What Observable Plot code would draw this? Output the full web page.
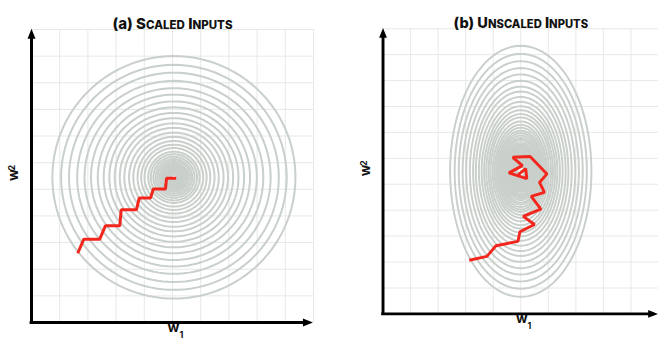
<!DOCTYPE html>
<html>
<head>
<meta charset="utf-8">
<script src="https://cdn.jsdelivr.net/npm/d3@7"></script>
<script src="https://cdn.jsdelivr.net/npm/@observablehq/plot@0.6"></script>
<style>
  html, body { margin: 0; padding: 0; background: #fff; width: 658px; height: 342px; overflow: hidden; }
  .panel { position: absolute; top: 0; }
  #scaled { left: 0; }
  #unscaled { left: 329px; }
</style>
</head>
<body>
<div id="scaled" class="panel"></div>
<div id="unscaled" class="panel"></div>
<script>
// Panel titles
const titles = ["(a) Scaled Inputs", "(b) Unscaled Inputs"];

// Loss contours: semi-axis of each level along w1, and the w2/w1 stretch of the bowl
const scaledRadii = [4.31, 4.00, 3.72, 3.43, 3.17, 2.94, 2.70, 2.49, 2.29, 2.10, 1.92, 1.76, 1.59, 1.44,
  1.29, 1.16, 1.04, 0.91, 0.82, 0.73, 0.65, 0.58, 0.51, 0.46, 0.41, 0.37, 0.33, 0.29, 0.26, 0.23,
  0.21, 0.18, 0.16, 0.145, 0.13, 0.11, 0.10];
const scaledStretch = 1.056;
const scaledCenter = [5.05, 5.45];

const unscaledRadii = [2.565, 2.40, 2.25, 2.11, 1.98, 1.85, 1.73, 1.63, 1.52, 1.42, 1.33, 1.25, 1.17,
  1.10, 1.02, 0.95, 0.89, 0.83, 0.78, 0.73, 0.68, 0.64, 0.59, 0.55, 0.52, 0.49, 0.46, 0.42, 0.40,
  0.37, 0.35, 0.33, 0.30, 0.28, 0.265, 0.25, 0.23, 0.22, 0.205, 0.19, 0.18, 0.165, 0.155, 0.145,
  0.135, 0.125];
const unscaledStretch = 1.887;
const unscaledCenter = [5.0, 5.5];

// Gradient-descent trajectories (w1, w2)
const scaledPathW1 = [1.64, 1.855, 2.42, 2.62, 3.13, 3.18, 3.72, 3.82, 4.22, 4.32, 4.75, 4.79, 5.13];
const scaledPathW2 = [2.60, 3.13, 3.13, 3.63, 3.63, 4.23, 4.23, 4.67, 4.67, 5.01, 5.01, 5.42, 5.42];

const unscaledPathW1 = [3.13, 3.77, 4.10, 4.90, 4.97, 5.50, 5.09, 5.73, 5.38, 5.86, 5.68, 5.95, 5.34,
  4.71, 5.06, 4.57, 5.22, 5.18, 4.91];
const unscaledPathW2 = [2.07, 2.22, 2.63, 2.80, 3.17, 3.45, 3.76, 4.04, 4.53, 4.69, 5.07, 5.40, 6.07,
  6.04, 5.72, 5.44, 5.22, 5.60, 5.37];

const FONT = "Inter, 'DejaVu Sans', sans-serif";
const RED = "#f2261c";
const CONTOUR = "#c9cfca";
const GRID = "#e6e8e6";

// Filled arrowhead for the axis vectors (drawn pointing up, tip at the anchor)
const arrowHead = {
  draw(context, l) {
    context.moveTo(-4, 0);
    context.lineTo(0, -l);
    context.lineTo(4, 0);
    context.closePath();
  }
};

function contourRings(radii, center, stretch) {
  const angles = d3.range(0, 360, 3).map(d => d * Math.PI / 180);
  return radii.flatMap((r, i) => angles.map(a => ({
    level: i,
    w1: center[0] + r * Math.cos(a),
    w2: center[1] + r * stretch * Math.sin(a)
  })));
}

// Title set in small capitals after the "(a) " tag: capitals full size, the rest smaller
function smallCaps(svg, title) {
  const node = Array.from(svg.querySelectorAll("text")).find(t => t.textContent === title);
  if (!node) return;
  const [, tag, rest] = title.match(/^(\(\w\)\s*)(.*)$/);
  node.textContent = "";
  const add = (text, size) => {
    const tspan = document.createElementNS("http://www.w3.org/2000/svg", "tspan");
    tspan.textContent = text;
    tspan.setAttribute("font-size", size);
    node.append(tspan);
  };
  add(tag, 15);
  for (const part of rest.match(/[a-z]+|[^a-z]+/g)) {
    if (/[a-z]/.test(part[0])) add(part.toUpperCase(), 11.5);
    else add(part, 15);
  }
}

function panel({title, radii, center, stretch, pathW1, pathW2, width, marginLeft, marginRight}) {
  const rings = contourRings(radii, center, stretch);
  const path = pathW1.map((w1, i) => ({w1, w2: pathW2[i]}));
  const label = {fontFamily: FONT, fontWeight: 700, fill: "#111"};
  const svg = Plot.plot({
    width,
    height: 342,
    marginLeft,
    marginRight,
    marginTop: 29,
    marginBottom: 20,
    x: {domain: [0, 10], axis: null},
    y: {domain: [0, 11], axis: null},
    marks: [
      Plot.gridX(d3.range(1, 11), {stroke: GRID, strokeOpacity: 1, strokeWidth: 1}),
      Plot.gridY(d3.range(1, 12), {stroke: GRID, strokeOpacity: 1, strokeWidth: 1}),
      Plot.line(rings, {x: "w1", y: "w2", z: "level", curve: "linear-closed",
        stroke: CONTOUR, strokeWidth: 2}),
      Plot.line(path, {x: "w1", y: "w2", stroke: RED, strokeWidth: 3,
        strokeLinejoin: "miter", strokeLinecap: "butt"}),
      // axes with arrowheads
      Plot.ruleX([0], {y1: 0, y2: 10.7, stroke: "#000", strokeWidth: 3}),
      Plot.ruleY([0], {x1: -0.05, x2: 9.85, stroke: "#000", strokeWidth: 3}),
      Plot.vector([0], {x: 0, y: 11.03, length: 10, rotate: 0, anchor: "end",
        shape: arrowHead, fill: "#000", stroke: "none"}),
      Plot.vector([0], {x: 9.98, y: 0, length: 10, rotate: 90, anchor: "end",
        shape: arrowHead, fill: "#000", stroke: "none"}),
      // title
      Plot.text([title], {frameAnchor: "top", dy: -11, fontSize: 15, ...label, fontWeight: 800}),
      // axis labels
      Plot.text(["w"], {frameAnchor: "bottom", dx: 1, dy: 9, fontSize: 14, ...label}),
      Plot.text(["1"], {frameAnchor: "bottom", dx: 9, dy: 15, fontSize: 9, ...label}),
      Plot.text(["w"], {frameAnchor: "left", dx: -17.5, dy: 5, rotate: -90, fontSize: 14, ...label}),
      Plot.text(["2"], {frameAnchor: "left", dx: -19.5, dy: -5.5, rotate: -90, fontSize: 9, ...label})
    ]
  });
  smallCaps(svg, title);
  return svg;
}

document.getElementById("scaled").append(panel({
  title: titles[0], radii: scaledRadii, center: scaledCenter, stretch: scaledStretch,
  pathW1: scaledPathW1, pathW2: scaledPathW2,
  width: 329, marginLeft: 31, marginRight: 16
}));

document.getElementById("unscaled").append(panel({
  title: titles[1], radii: unscaledRadii, center: unscaledCenter, stretch: unscaledStretch,
  pathW1: unscaledPathW1, pathW2: unscaledPathW2,
  width: 338, marginLeft: 55, marginRight: 0
}));
</script>
</body>
</html>
